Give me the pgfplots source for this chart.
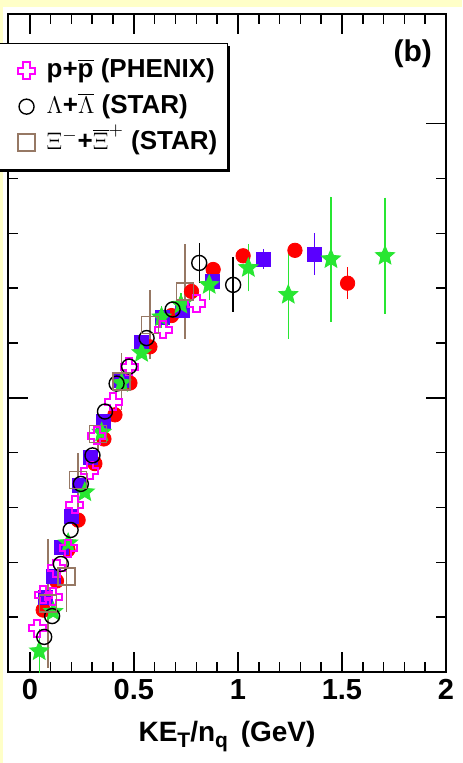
\documentclass[border=0pt]{standalone}
\usepackage{fontspec}
\setmainfont{Liberation Sans}
\usepackage{pgfplots}
\pgfplotsset{compat=1.18}
\usetikzlibrary{shadows}

\definecolor{bgyel}{RGB}{255,255,200}
\definecolor{cmag}{RGB}{255,0,255}
\definecolor{cbrn}{RGB}{150,120,100}
\definecolor{cblu}{RGB}{90,0,255}
\definecolor{cgrn}{RGB}{40,230,50}
\definecolor{cred}{RGB}{255,0,0}

\pgfdeclareplotmark{ocross}{%
  \pgfpathmoveto{\pgfpoint{0.36\pgfplotmarksize}{0.36\pgfplotmarksize}}%
  \pgfpathlineto{\pgfpoint{0.36\pgfplotmarksize}{\pgfplotmarksize}}%
  \pgfpathlineto{\pgfpoint{-0.36\pgfplotmarksize}{\pgfplotmarksize}}%
  \pgfpathlineto{\pgfpoint{-0.36\pgfplotmarksize}{0.36\pgfplotmarksize}}%
  \pgfpathlineto{\pgfpoint{-\pgfplotmarksize}{0.36\pgfplotmarksize}}%
  \pgfpathlineto{\pgfpoint{-\pgfplotmarksize}{-0.36\pgfplotmarksize}}%
  \pgfpathlineto{\pgfpoint{-0.36\pgfplotmarksize}{-0.36\pgfplotmarksize}}%
  \pgfpathlineto{\pgfpoint{-0.36\pgfplotmarksize}{-\pgfplotmarksize}}%
  \pgfpathlineto{\pgfpoint{0.36\pgfplotmarksize}{-\pgfplotmarksize}}%
  \pgfpathlineto{\pgfpoint{0.36\pgfplotmarksize}{-0.36\pgfplotmarksize}}%
  \pgfpathlineto{\pgfpoint{\pgfplotmarksize}{-0.36\pgfplotmarksize}}%
  \pgfpathlineto{\pgfpoint{\pgfplotmarksize}{0.36\pgfplotmarksize}}%
  \pgfpathclose
  \pgfusepathqstroke}

\pgfdeclareplotmark{fstar}{%
  \pgfpathmoveto{\pgfpointpolar{90}{\pgfplotmarksize}}%
  \pgfpathlineto{\pgfpointpolar{126}{0.45\pgfplotmarksize}}%
  \pgfpathlineto{\pgfpointpolar{162}{\pgfplotmarksize}}%
  \pgfpathlineto{\pgfpointpolar{198}{0.45\pgfplotmarksize}}%
  \pgfpathlineto{\pgfpointpolar{234}{\pgfplotmarksize}}%
  \pgfpathlineto{\pgfpointpolar{270}{0.45\pgfplotmarksize}}%
  \pgfpathlineto{\pgfpointpolar{306}{\pgfplotmarksize}}%
  \pgfpathlineto{\pgfpointpolar{342}{0.45\pgfplotmarksize}}%
  \pgfpathlineto{\pgfpointpolar{18}{\pgfplotmarksize}}%
  \pgfpathlineto{\pgfpointpolar{54}{0.45\pgfplotmarksize}}%
  \pgfpathclose
  \pgfusepathqfillstroke}

\pgfplotstableread{
x y e
0.064 0.0113 0
0.128 0.0166 0
0.183 0.0223 0
0.232 0.0277 0
0.3125 0.0380 0
0.356 0.0425 0
0.409 0.0469 0
0.481 0.0527 0
0.577 0.0593 0
0.681 0.0650 0
0.777 0.0694 0
0.881 0.0734 0
1.025 0.0759 0
1.274 0.0769 0
1.527 0.0709 0.0029
}\tred

\pgfplotstableread{
x y e
0.077 0.0136 0
0.112 0.0175 0
0.152 0.0227 0
0.200 0.0283 0
0.240 0.0341 0
0.293 0.0391 0
0.352 0.0457 0
0.442 0.0531 0
0.537 0.0601 0
0.635 0.0646 0
0.734 0.0659 0
0.878 0.0712 0
1.122 0.0753 0.0018
1.367 0.0762 0.0038
}\tblu

\pgfplotstableread{
x y e
0.045 0.0038 0.004
0.112 0.0110 0
0.184 0.0235 0
0.264 0.0328 0
0.345 0.0437 0
0.441 0.0527 0.0015
0.537 0.0582 0
0.633 0.0647 0.002
0.726 0.0670 0.0022
0.862 0.0706 0.0027
1.050 0.0737 0.0043
1.242 0.0688 0.008
1.447 0.0753 0.0114
1.707 0.0759 0.0106
}\tgrn

\pgfplotstableread{
x y e
0.088 0.0125 0.0118
0.176 0.0174 0.0064
0.232 0.0350 0.005
0.327 0.0434 0.003
0.441 0.0530 0.0052
0.577 0.0633 0.0063
0.745 0.0694 0.0086
}\tbrn

\pgfplotstableread{
x y e
0.069 0.0064 0
0.107 0.0102 0
0.149 0.0197 0
0.196 0.0259 0
0.245 0.0343 0
0.301 0.0395 0
0.361 0.0475 0
0.417 0.0526 0
0.477 0.0557 0
0.561 0.0609 0
0.686 0.0661 0
0.814 0.0746 0.0036
0.977 0.0706 0.005
}\tblk

\pgfplotstableread{
x y
0.036 0.0080
0.064 0.0141
0.112 0.0137
0.128 0.0189
0.184 0.0226
0.216 0.0305
0.288 0.0367
0.321 0.0431
0.400 0.0493
0.477 0.0557
0.642 0.0624
0.801 0.0672
}\tmag

\begin{document}
\begin{tikzpicture}
\fill[bgyel] (-4pt,-45.5pt) rectangle (227pt,336pt);
\fill[white] (-2.5pt,-45.5pt) rectangle (227pt,332.5pt);
\begin{axis}[
  scale only axis,
  width=219pt, height=329pt,
  xmin=-0.105, xmax=2, ymin=0, ymax=0.12,
  xtick={0,0.5,1,1.5,2},
  xticklabels={0,0.5,1,1.5,2},
  minor x tick num=4,
  ytick={0,0.05,0.1},
  yticklabels={},
  minor y tick num=4,
  major tick length=10pt,
  minor tick length=5pt,
  tick style={line width=0.8pt, black},
  axis line style={line width=0.9pt},
  /pgf/number format/assume math mode=true,
  ticklabel style={font=\fontsize{14.5}{16}\selectfont\bfseries},
  xlabel={KE\raisebox{-0.45ex}{\fontsize{10.5}{11}\selectfont T}/n\raisebox{-0.45ex}{\fontsize{10.5}{11}\selectfont q}\hspace{2.5pt} (GeV)},
  xlabel style={font=\fontsize{14}{15}\selectfont\bfseries, at={(axis description cs:0.5,0)}, anchor=base, yshift=-34.5pt},
  error bars/error mark=none,
  legend cell align=left,
  legend style={at={(0.5023,0.956)}, anchor=north east, draw=black, line width=0.7pt, fill=white,
    font=\fontsize{13}{14}\selectfont\bfseries, row sep=4.5pt, inner xsep=1pt, inner ysep=6.75pt,
    nodes={inner xsep=4pt, inner ysep=0pt, text height=10pt, text depth=3.5pt},
    drop shadow={shadow xshift=1.2pt, shadow yshift=-1.2pt, fill=black, opacity=1}},
  legend image code/.code={\path (-0.9cm,0cm) (0.2cm,0cm); \draw[#1] plot coordinates {(0cm,0cm)};},
]
\addplot[only marks, mark=*, mark size=3.6pt, draw=cred, fill=cred, forget plot,
  error bars/.cd, y dir=both, y explicit, error bar style={cred, line width=0.7pt}]
  table[x=x, y=y, y error=e] {\tred};
\addplot[only marks, mark=square*, mark size=3.5pt, draw=cblu, fill=cblu, forget plot,
  error bars/.cd, y dir=both, y explicit, error bar style={cblu, line width=0.7pt}]
  table[x=x, y=y, y error=e] {\tblu};
\addplot[only marks, mark=fstar, mark size=5pt, draw=cgrn, fill=cgrn, forget plot,
  error bars/.cd, y dir=both, y explicit, error bar style={cgrn, line width=0.7pt}]
  table[x=x, y=y, y error=e] {\tgrn};
\addplot[only marks, mark=ocross, mark size=4.25pt, draw=cmag, mark options={line width=1pt}]
  table[x=x, y=y] {\tmag};
\addlegendentry{p+$\overline{\mbox{p}}$ (PHENIX)}
\addplot[only marks, mark=o, mark size=3.75pt, draw=black, mark options={line width=0.7pt},
  error bars/.cd, y dir=both, y explicit, error bar style={black, line width=0.7pt}]
  table[x=x, y=y, y error=e] {\tblk};
\addlegendentry{$\Lambda$+$\overline{\Lambda}$ (STAR)}
\addplot[only marks, mark=square, mark size=4.25pt, draw=cbrn, mark options={line width=0.7pt},
  error bars/.cd, y dir=both, y explicit, error bar style={cbrn, line width=0.7pt}]
  table[x=x, y=y, y error=e] {\tbrn};
\addlegendentry{$\Xi^{-}$+$\overline{\Xi}^{+}$ (STAR)}
\node[font=\fontsize{15}{16}\selectfont\bfseries] at (axis cs:1.84,0.1128) {(b)};
\end{axis}
\node[anchor=west, inner sep=0pt, font=\fontsize{20}{20}\selectfont\bfseries] at (226.6pt,187pt) {(};
\pgfresetboundingbox
\path[use as bounding box] (-4pt,-45.5pt) rectangle (227pt,336pt);
\end{tikzpicture}
\end{document}
